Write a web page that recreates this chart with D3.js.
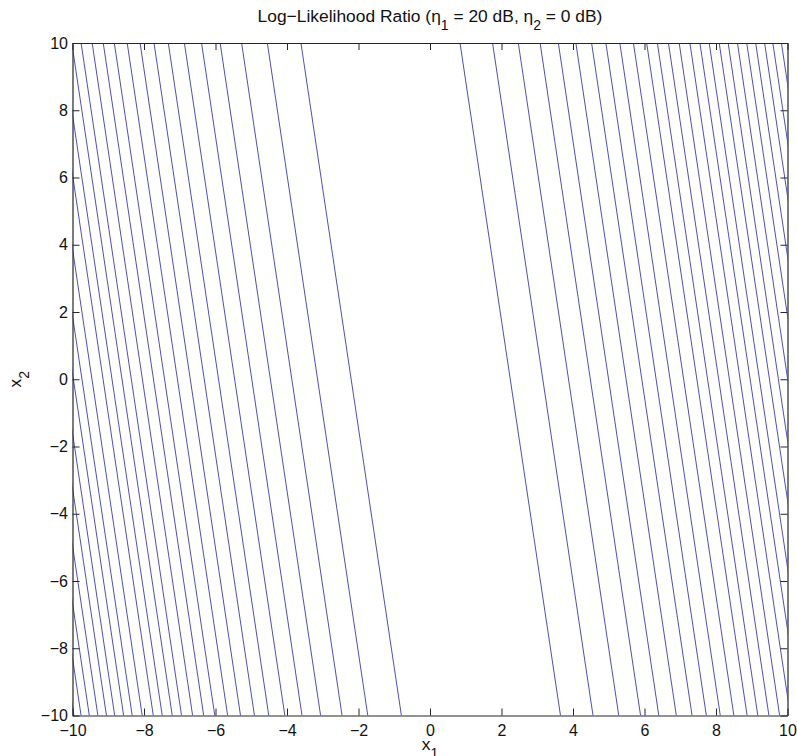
<!DOCTYPE html>
<html>
<head>
<meta charset="utf-8">
<script src="https://cdn.jsdelivr.net/npm/d3@7"></script>
<style>
  html, body { margin: 0; padding: 0; background: #fff; }
  svg { display: block; }
  text { font-family: "Liberation Sans", Arial, Helvetica, sans-serif; }
</style>
</head>
<body>
<div id="chart"></div>
<script>
// ---- data ----
// x1 position of each contour line where it crosses x2 = 10 (top) and x2 = -10 (bottom)
const topX1 = [-12.77, -12.57, -12.34, -12.10, -11.86, -11.63, -11.38, -11.14, -10.86, -10.55, -10.30, -10.02,
               -9.76, -9.45, -9.14, -8.83, -8.47, -8.11, -7.72, -7.32, -6.87, -6.39, -5.87, -5.27, -4.55, -3.61,
               0.84, 1.75, 2.47, 3.08, 3.59, 4.08, 4.52, 4.92, 5.31, 5.69, 6.06, 6.36, 6.67, 6.97, 7.27,
               7.55, 7.81, 8.09, 8.34, 8.60, 8.86, 9.11, 9.36, 9.59, 9.83];
const bottomX1 = [-9.96, -9.76, -9.53, -9.29, -9.05, -8.82, -8.57, -8.33, -8.05, -7.74, -7.49, -7.21,
               -6.95, -6.64, -6.33, -6.02, -5.66, -5.30, -4.91, -4.51, -4.06, -3.58, -3.06, -2.46, -1.74, -0.80,
               3.65, 4.56, 5.28, 5.89, 6.40, 6.89, 7.33, 7.73, 8.12, 8.50, 8.87, 9.17, 9.48, 9.78, 10.08,
               10.36, 10.62, 10.90, 11.15, 11.41, 11.67, 11.92, 12.17, 12.40, 12.64];
const x2Top = 10, x2Bottom = -10;
const xTicks = [-10, -8, -6, -4, -2, 0, 2, 4, 6, 8, 10];
const yTicks = [-10, -8, -6, -4, -2, 0, 2, 4, 6, 8, 10];

// ---- layout ----
const W = 797, H = 756;
const L = 72.5, R = 787.5, T = 43, B = 715.5;

const svg = d3.select("#chart").append("svg")
  .attr("width", W).attr("height", H);
svg.append("rect").attr("width", W).attr("height", H).attr("fill", "#fff");

const x = d3.scaleLinear().domain([-10, 10]).range([L, R]);
const y = d3.scaleLinear().domain([-10, 10]).range([B, T]);

svg.append("clipPath").attr("id", "plotclip")
  .append("rect").attr("x", L).attr("y", T).attr("width", R - L).attr("height", B - T);

const lines = topX1.map((t, i) => [[t, x2Top], [bottomX1[i], x2Bottom]]);
const lineGen = d3.line().x(d => x(d[0])).y(d => y(d[1]));

svg.append("g").attr("clip-path", "url(#plotclip)")
  .selectAll("path").data(lines).join("path")
  .attr("d", lineGen)
  .attr("fill", "none")
  .attr("stroke", "#4646ad")
  .attr("stroke-width", 0.95);

const fmt = d => d < 0 ? "\u2212" + Math.abs(d) : String(d);
const fs = "16px";

function styleAxis(g, showLabels) {
  g.selectAll(".domain").attr("stroke", "#262626").attr("stroke-width", 1.2);
  g.selectAll(".tick line").attr("stroke", "#262626").attr("stroke-width", 1);
  g.selectAll(".tick text").attr("fill", "#111").style("font-size", fs)
    .style("font-family", '"Liberation Sans", Arial, sans-serif');
  if (!showLabels) g.selectAll(".tick text").remove();
}

svg.append("g").attr("transform", `translate(0,${B})`)
  .call(d3.axisBottom(x).tickValues(xTicks).tickFormat(fmt).tickSizeInner(-7).tickSizeOuter(0).tickPadding(9.5))
  .call(g => styleAxis(g, true));
svg.append("g").attr("transform", `translate(0,${T})`)
  .call(d3.axisTop(x).tickValues(xTicks).tickSizeInner(-7).tickSizeOuter(0))
  .call(g => styleAxis(g, false));
svg.append("g").attr("transform", `translate(${L},0)`)
  .call(d3.axisLeft(y).tickValues(yTicks).tickFormat(fmt).tickSizeInner(-7).tickSizeOuter(0).tickPadding(4.5))
  .call(g => styleAxis(g, true));
svg.append("g").attr("transform", `translate(${R},0)`)
  .call(d3.axisRight(y).tickValues(yTicks).tickSizeInner(-7).tickSizeOuter(0))
  .call(g => styleAxis(g, false));

// title
const tfs = "17.4px", sfs = "14px";
const title = svg.append("text").attr("x", (L + R) / 2).attr("y", 22)
  .attr("text-anchor", "middle").style("font-size", tfs).attr("fill", "#111");
title.append("tspan").text("Log\u2212Likelihood Ratio (\u03b7");
title.append("tspan").attr("dy", 7.5).style("font-size", sfs).text("1");
title.append("tspan").attr("dy", -7.5).text(" = 20 dB, \u03b7");
title.append("tspan").attr("dy", 7.5).style("font-size", sfs).text("2");
title.append("tspan").attr("dy", -7.5).text(" = 0 dB)");

// x label
const xl = svg.append("text").attr("x", (L + R) / 2).attr("y", 750)
  .attr("text-anchor", "middle").style("font-size", tfs).attr("fill", "#111");
xl.append("tspan").text("x");
xl.append("tspan").attr("dy", 8).style("font-size", sfs).text("1");

// y label
const yl = svg.append("text").attr("transform", `translate(20.5,${(T + B) / 2}) rotate(-90)`)
  .attr("text-anchor", "middle").style("font-size", tfs).attr("fill", "#111");
yl.append("tspan").text("x");
yl.append("tspan").attr("dy", 8).style("font-size", sfs).text("2");
</script>
</body>
</html>
